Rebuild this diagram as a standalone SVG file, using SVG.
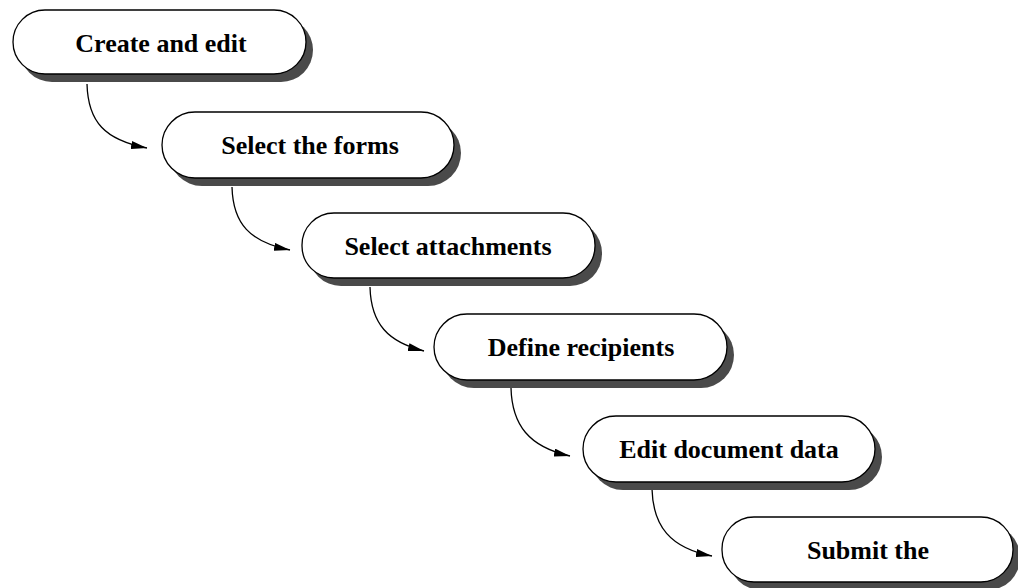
<svg xmlns="http://www.w3.org/2000/svg" width="1018" height="588" viewBox="0 0 1018 588">
<style>
.sh{fill:#4a4a4a;stroke:none}
.bx{fill:#fff;stroke:#000;stroke-width:1.3}
.t{font-family:"Liberation Serif","Times New Roman",serif;font-weight:bold;font-size:26px;text-anchor:middle;fill:#000}
.c{fill:none;stroke:#000;stroke-width:1.3}
</style>
<defs>
<marker id="ah" viewBox="0 0 16 8" refX="16" refY="4" markerWidth="16" markerHeight="8" markerUnits="userSpaceOnUse" orient="auto">
<path d="M0,0 L16,4 L0,8 Z" fill="#000"/>
</marker>
</defs>
<g id="connectors">
<path class="c" d="M87,84 C88,122 105,140 147,148" marker-end="url(#ah)"/>
<path class="c" d="M232,187 C233,224 250,242 290,250" marker-end="url(#ah)"/>
<path class="c" d="M370,287 C371,324 388,342 424,351" marker-end="url(#ah)"/>
<path class="c" d="M511,388 C512,425 529,447 570,456" marker-end="url(#ah)"/>
<path class="c" d="M652,489 C653,526 670,548 712,556" marker-end="url(#ah)"/>
</g>
<g id="n1">
<rect class="sh" x="20" y="18" width="293" height="64" rx="32"/>
<rect class="bx" x="13" y="10" width="293" height="64" rx="32"/>
<text class="t" x="161" y="52">Create and edit</text>
</g>
<g id="n2">
<rect class="sh" x="169" y="120" width="292" height="66" rx="33"/>
<rect class="bx" x="162" y="112" width="292" height="66" rx="33"/>
<text class="t" x="310" y="154">Select the forms</text>
</g>
<g id="n3">
<rect class="sh" x="309" y="221" width="293" height="65" rx="32"/>
<rect class="bx" x="302" y="213" width="293" height="65" rx="32"/>
<text class="t" x="448" y="255">Select attachments</text>
</g>
<g id="n4">
<rect class="sh" x="441" y="322" width="293" height="66" rx="33"/>
<rect class="bx" x="434" y="314" width="293" height="66" rx="33"/>
<text class="t" x="581" y="356">Define recipients</text>
</g>
<g id="n5">
<rect class="sh" x="590" y="424" width="292" height="66" rx="33"/>
<rect class="bx" x="583" y="416" width="292" height="66" rx="33"/>
<text class="t" x="729" y="458">Edit document data</text>
</g>
<g id="n6">
<rect class="sh" x="729" y="525" width="291" height="65" rx="32"/>
<rect class="bx" x="722" y="517" width="291" height="65" rx="32"/>
<text class="t" x="868" y="559">Submit the</text>
</g>
</svg>
